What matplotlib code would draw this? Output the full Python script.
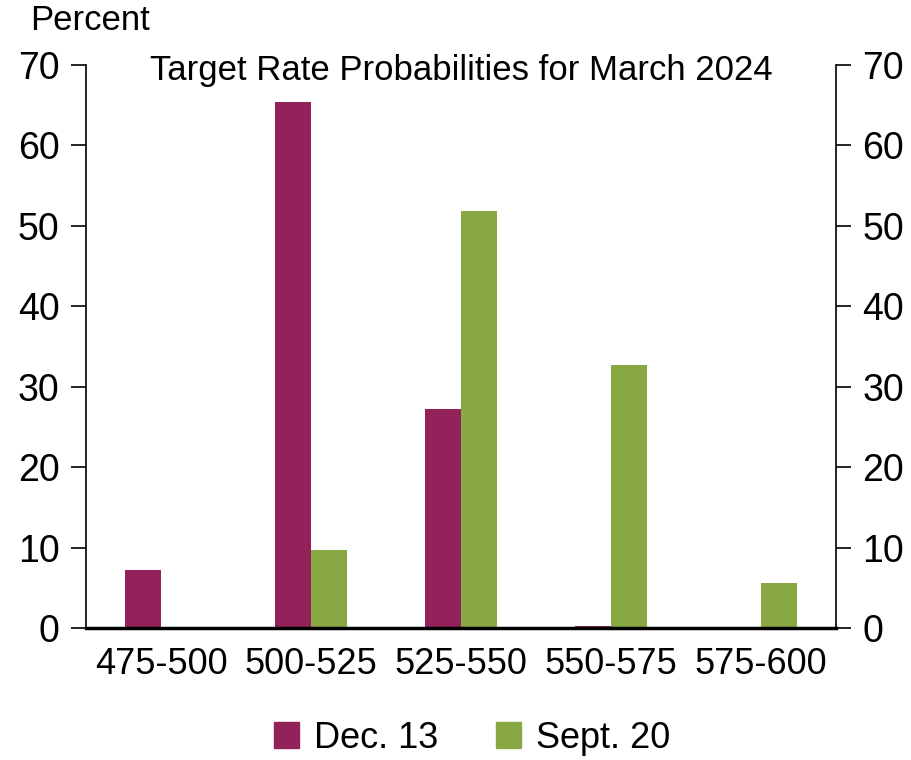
import numpy as np
import matplotlib
matplotlib.use("Agg")
import matplotlib.pyplot as plt
import matplotlib.patches as mpatches

# Rangos de tasa objetivo (puntos básicos) y probabilidades
rangos = ["475-500", "500-525", "525-550", "550-575", "575-600"]
dic_13 = [7.2, 65.4, 27.2, 0.2, 0.0]
sep_20 = [0.1, 9.7, 51.9, 32.7, 5.6]

color_dic = "#93215A"
color_sep = "#88A843"

plt.rcParams['font.family'] = ['Liberation Sans Narrow', 'Liberation Sans', 'DejaVu Sans']

fig = plt.figure(figsize=(9.12, 7.6), dpi=100)
ax = fig.add_axes([86 / 912, 1 - 628 / 760, 750 / 912, 563 / 760])

x = np.arange(len(rangos))
ancho = 0.24
ax.bar(x - ancho / 2, dic_13, ancho, color=color_dic)
ax.bar(x + ancho / 2, sep_20, ancho, color=color_sep)

ax.set_xlim(-0.5, len(rangos) - 0.5)
ax.set_ylim(0, 70)
ax.set_yticks(range(0, 71, 10))
ax.set_xticks(x)
ax.set_xticklabels(rangos)

ax.spines['top'].set_visible(False)
ax.spines['left'].set_linewidth(1.2)
ax.spines['right'].set_linewidth(1.2)
ax.spines['bottom'].set_linewidth(2.5)

ax.tick_params(axis='y', labelsize=27, length=11, width=1.2, direction='out',
               left=True, right=True, labelleft=True, labelright=True, pad=8)
ax.tick_params(axis='x', labelsize=26, length=0, pad=14)

ax.text(0.5, 0.99, "Target Rate Probabilities for March 2024", transform=ax.transAxes,
        ha='center', va='center', fontsize=25)
fig.text(30 / 912, 1 - 21 / 760, "Percent", ha='left', va='center', fontsize=25)

parche_dic = mpatches.Patch(color=color_dic, label="Dec. 13")
parche_sep = mpatches.Patch(color=color_sep, label="Sept. 20")
fig.legend(handles=[parche_dic, parche_sep], loc='center',
           bbox_to_anchor=(472 / 912, 1 - 738 / 760),
           ncol=2, frameon=False, fontsize=26, handlelength=0.7, handleheight=0.7,
           handletextpad=0.4, columnspacing=1.6)

fig.savefig("out.png", dpi=100)
